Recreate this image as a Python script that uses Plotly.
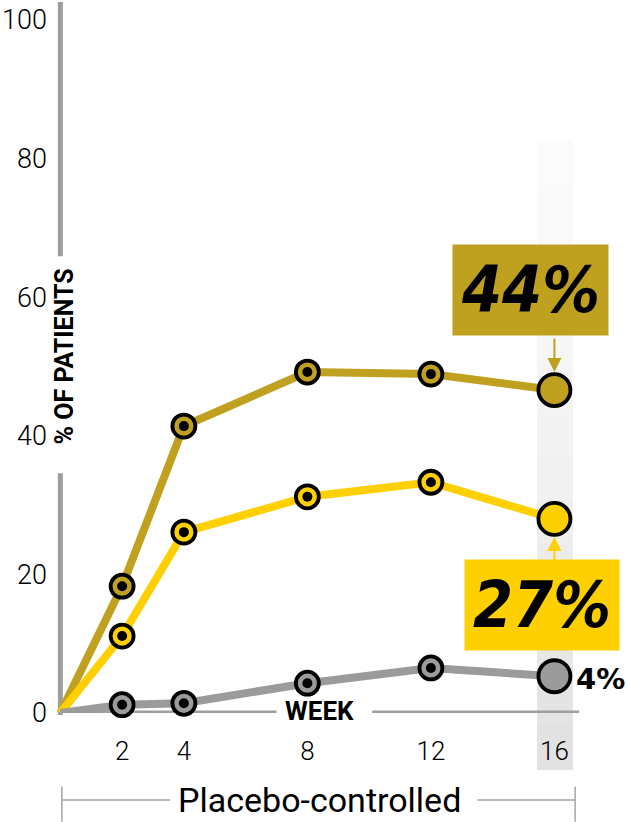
## Response rate by week, three arms
import plotly.graph_objects as go

## the data
weeks = [0, 2, 4, 8, 12, 16]
tick_weeks = [2, 4, 8, 12, 16]
tick_labels = ["2", "4", "8", "12", "16"]
high_dose = [0, 18.3, 41.4, 49.2, 48.9, 46.6]
low_dose = [0, 11.1, 26.1, 31.2, 33.3, 28.0]
placebo = [0, 1.2, 1.4, 4.3, 6.5, 5.3]
end_labels = ["44%", "27%", "4%"]
y_ticks = [0, 20, 40, 60, 80, 100]

## colours
gold = "#BFA11F"
yellow = "#FFD000"
grey = "#9B9B9B"
axis_grey = "#9E9E9E"

fig = go.Figure()

## the series, a line with rings, then the black dots inside
def add_series(fig, y, color):
    sizes = [0] + [23] * (len(y) - 2) + [32]
    widths = [0] + [3.8] * (len(y) - 1)
    ## opacity has to be set, array sizes make it 0.7 by default
    fig.add_trace(go.Scatter(x=weeks, y=y, mode="lines+markers",
                             line=dict(color=color, width=8),
                             marker=dict(size=sizes, color=color, opacity=1,
                                         line=dict(color="black", width=widths)),
                             cliponaxis=False, hoverinfo="skip"))
    fig.add_trace(go.Scatter(x=weeks[1:-1], y=y[1:-1], mode="markers",
                             marker=dict(size=10, color="black", opacity=1),
                             cliponaxis=False, hoverinfo="skip"))

add_series(fig, high_dose, gold)
add_series(fig, low_dose, yellow)
add_series(fig, placebo, grey)

shapes = []
## highlight column behind week 16, faded to the top
n = 14
top, bottom = 0.827, -0.082
for i in range(n):
    c = int(251 - (251 - 226) * (i / (n - 1)) ** 1.5)
    y1 = top - (top - bottom) * i / n
    shapes.append(dict(type="rect", xref="x", yref="paper", x0=15.45, x1=16.6,
                       y0=bottom, y1=y1, line=dict(width=0),
                       fillcolor=f"rgb({c},{c},{c})", layer="below"))
## y axis line with a gap for the title
shapes.append(dict(type="line", xref="x", yref="paper", x0=0, x1=0, y0=-0.003, y1=0.346,
                   line=dict(color=axis_grey, width=5), layer="below"))
shapes.append(dict(type="line", xref="x", yref="paper", x0=0, x1=0, y0=0.659, y1=1.026,
                   line=dict(color=axis_grey, width=5), layer="below"))
## x axis line with a gap for WEEK
shapes.append(dict(type="line", xref="x", yref="y", x0=0, x1=7.0, y0=0, y1=0,
                   line=dict(color=axis_grey, width=5), layer="below"))
shapes.append(dict(type="line", xref="x", yref="y", x0=10.1, x1=16.8, y0=0, y1=0,
                   line=dict(color=axis_grey, width=5), layer="below"))
## bracket for placebo-controlled period
br_y = -0.1255
br_color = "#A5A5A5"
shapes.append(dict(type="line", xref="x", yref="paper", x0=0.05, x1=3.55, y0=br_y, y1=br_y,
                   line=dict(color=br_color, width=1.5)))
shapes.append(dict(type="line", xref="x", yref="paper", x0=13.5, x1=16.67, y0=br_y, y1=br_y,
                   line=dict(color=br_color, width=1.5)))
for bx in [0.05, 16.67]:
    shapes.append(dict(type="line", xref="x", yref="paper", x0=bx, x1=bx, y0=-0.106, y1=-0.157,
                       line=dict(color=br_color, width=1.5)))

annotations = []
## brush labels, with arrows to the last points
annotations.append(dict(x=16, y=high_dose[-1], text=f"<i><b>{end_labels[0]}</b></i>",
                        showarrow=False, xshift=-24, yshift=100, bgcolor=gold,
                        font=dict(family="DejaVu Sans Condensed, DejaVu Sans", size=64, color="black"),
                        borderpad=8))
annotations.append(dict(x=16, y=high_dose[-1], text="", showarrow=True, ax=0, ay=-53,
                        arrowhead=2, arrowsize=1.4, arrowwidth=2, arrowcolor=gold, standoff=18))
annotations.append(dict(x=16, y=low_dose[-1], text=f"<i><b>{end_labels[1]}</b></i>",
                        showarrow=False, xshift=-12, yshift=-86, bgcolor=yellow,
                        font=dict(family="DejaVu Sans Condensed, DejaVu Sans", size=64, color="black"),
                        borderpad=8))
annotations.append(dict(x=16, y=low_dose[-1], text="", showarrow=True, ax=0, ay=53,
                        arrowhead=2, arrowsize=1.4, arrowwidth=2, arrowcolor=yellow, standoff=18))
annotations.append(dict(x=16, y=placebo[-1], text=f"<b>{end_labels[2]}</b>", showarrow=False,
                        xanchor="left", xshift=20, yshift=-3,
                        font=dict(family="DejaVu Sans", size=29, color="black")))
## axis titles
annotations.append(dict(x=8.4, y=0, text="<b>WEEK</b>", showarrow=False, yshift=2,
                        font=dict(family="Roboto", size=26, color="black", weight=900)))
annotations.append(dict(x=0, y=51.5, text="<b>% OF PATIENTS</b>", showarrow=False,
                        textangle=-90, xshift=4,
                        font=dict(family="Roboto", size=25, color="black", weight=900)))
annotations.append(dict(x=8.4, xref="x", y=br_y, yref="paper", text="Placebo-controlled",
                        showarrow=False, xanchor="center", yanchor="middle",
                        font=dict(family="Roboto", size=34, color="black")))

fig.update_layout(width=628, height=822, margin=dict(l=48, r=18, t=20, b=109),
                  plot_bgcolor="white", paper_bgcolor="white", showlegend=False,
                  shapes=shapes, annotations=annotations,
                  font=dict(family="Roboto", color="black"))
fig.update_xaxes(range=[-0.4, 17.8], showgrid=False, zeroline=False, showline=False,
                 tickvals=tick_weeks, ticktext=tick_labels, ticks="", automargin=False,
                 tickfont=dict(size=26, family="Roboto", weight=300), ticklabelstandoff=20)
fig.update_yaxes(range=[0, 100], showgrid=False, zeroline=False, showline=False,
                 tickvals=y_ticks, ticks="", automargin=False,
                 tickfont=dict(size=27, family="Roboto", weight=300), ticklabelstandoff=0)

## no page margin so the figure sits at the corner
fig.write_html("out.html", config={"displayModeBar": False},
               post_script="document.body.style.margin='0';")
